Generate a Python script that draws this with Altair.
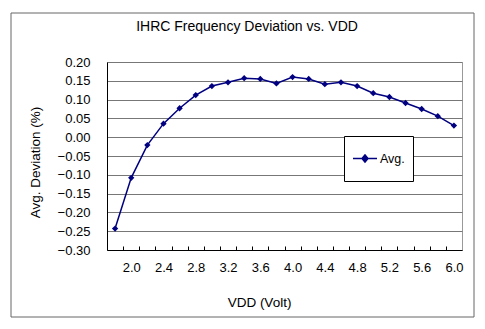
import altair as alt
import pandas as pd

# ---- data ----
VDD = [1.8, 2.0, 2.2, 2.4, 2.6, 2.8, 3.0, 3.2, 3.4, 3.6, 3.8,
       4.0, 4.2, 4.4, 4.6, 4.8, 5.0, 5.2, 5.4, 5.6, 5.8, 6.0]
DEV = [-0.243, -0.108, -0.021, 0.036, 0.077, 0.112, 0.136, 0.146, 0.157, 0.155, 0.143,
       0.160, 0.155, 0.141, 0.146, 0.136, 0.117, 0.107, 0.091, 0.075, 0.056, 0.031]
SERIES = ["Avg."] * len(VDD)

X_LABELS = [2.0, 2.4, 2.8, 3.2, 3.6, 4.0, 4.4, 4.8, 5.2, 5.6, 6.0]
X_TICKS = [1.9, 2.1, 2.3, 2.5, 2.7, 2.9, 3.1, 3.3, 3.5, 3.7, 3.9, 4.1,
           4.3, 4.5, 4.7, 4.9, 5.1, 5.3, 5.5, 5.7, 5.9]
Y_TICKS = [-0.30, -0.25, -0.20, -0.15, -0.10, -0.05, 0.0, 0.05, 0.10, 0.15, 0.20]

TITLE = "IHRC Frequency Deviation vs. VDD"
X_TITLE = "VDD (Volt)"
Y_TITLE = "Avg. Deviation (%)"

FONT = "Liberation Sans"
NAVY = "#000080"

df = pd.DataFrame({"vdd": VDD, "dev": DEV, "series": SERIES})

x_scale = alt.Scale(domain=[1.7, 6.1], nice=False, zero=False)
y_scale = alt.Scale(domain=[-0.30, 0.20], nice=False, zero=False)

base = alt.Chart(df)

line = base.mark_line(
    strokeWidth=1.5,
    point=alt.OverlayMarkDef(shape="diamond", size=40, filled=True, color=NAVY),
).encode(
    x=alt.X("vdd:Q", scale=x_scale,
            axis=alt.Axis(values=X_LABELS, format=".1f", ticks=False, grid=False,
                          domainColor="black", domainWidth=1,
                          labelFont=FONT, labelFontSize=13, labelColor="black",
                          labelPadding=11, labelOverlap=False, labelFlush=False,
                          title=X_TITLE, titleFont=FONT, titleFontSize=13.5,
                          titleFontWeight="normal", titleColor="black",
                          titleX=152, titleY=52, titleAlign="center",
                          titleBaseline="middle", orient="bottom")),
    y=alt.Y("dev:Q", scale=y_scale,
            axis=alt.Axis(values=Y_TICKS, format=".2f", ticks=False, tickSize=0,
                          grid=True, gridColor="#777777", gridWidth=1,
                          domainColor="black", domainWidth=1,
                          labelFont=FONT, labelFontSize=13, labelColor="black",
                          labelPadding=17, labelOverlap=False, labelFlush=False,
                          title=Y_TITLE, titleFont=FONT, titleFontSize=13.5,
                          titleFontWeight="normal", titleColor="black",
                          titleX=-72, titleY=100, titleAngle=270,
                          titleAlign="center", titleBaseline="middle")),
    color=alt.Color("series:N", scale=alt.Scale(range=[NAVY]),
                    legend=alt.Legend(title=None, orient="none", legendX=237, legendY=74,
                                      fillColor="white", strokeColor="black",
                                      padding=8, cornerRadius=0, clipHeight=29,
                                      symbolType="M-1,0L1,0M-0.25,0L0,-0.3L0.25,0L0,0.3Z",
                                      symbolSize=576, symbolStrokeWidth=1.5,
                                      symbolFillColor=NAVY, symbolStrokeColor=NAVY,
                                      labelFont=FONT, labelFontSize=12.5, labelColor="black",
                                      labelOffset=2)),
)

ticks = base.mark_point(opacity=0).encode(
    x=alt.X("vdd:Q", scale=x_scale,
            axis=alt.Axis(values=X_TICKS, orient="bottom", labels=False, domain=False,
                          grid=False, tickSize=4, tickColor="black", tickWidth=1,
                          offset=-4, title=None)),
)

frame = alt.Chart(alt.Data(values=[{}])).mark_rect(
    fill="white", fillOpacity=0, stroke="#666666", strokeWidth=1
).encode(
    x=alt.value(-96), x2=alt.value(367), y=alt.value(-49), y2=alt.value(255)
)

title = alt.Chart(alt.Data(values=[{}])).mark_text(
    text=TITLE, font=FONT, fontSize=14, color="black", align="center", baseline="middle"
).encode(x=alt.value(140), y=alt.value(-35))

chart = alt.layer(frame, line, ticks, title).resolve_axis(x="independent").properties(
    width=355, height=188,
    padding={"left": 107, "top": 62, "right": 23, "bottom": 79},
    autosize=alt.AutoSizeParams(type="none"),
).configure(background="white").configure_view(stroke="#999999", strokeWidth=1)

chart.save("out.html", embed_options={"renderer": "svg", "actions": False})
